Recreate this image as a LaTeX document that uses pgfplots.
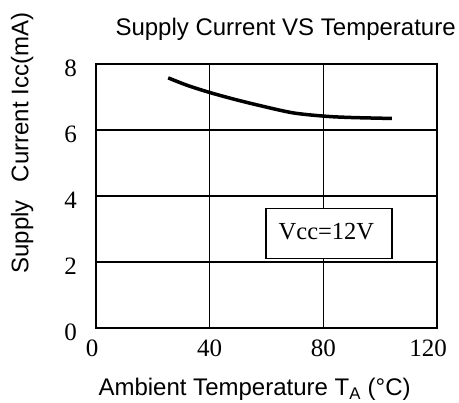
\documentclass[border=0pt]{standalone}
\usepackage{fontspec}
\setmainfont{Liberation Sans}
\newfontfamily\tnr{Liberation Serif}
\usepackage{pgfplots}
\pgfplotsset{compat=1.18}
\begin{document}
\begin{tikzpicture}
\path[use as bounding box] (0,0) rectangle (459bp,403bp);
\begin{axis}[
  at={(96bp,75bp)}, anchor=south west,
  scale only axis, width=341bp, height=264bp,
  xmin=0, xmax=120, ymin=0, ymax=8,
  xtick={0,40,80,120}, ytick={0,2,4,6,8},
  xticklabels={{\hspace*{-8bp}0},{40},{80},{\hspace*{-18bp}120}},
  major tick length=0pt,
  grid=major,
  grid style={black, line width=1.5bp},
  axis line style={black, line width=1.6bp},
  /pgf/number format/assume math mode=true,
  tick label style={font=\tnr\fontsize{25bp}{28bp}\selectfont, inner sep=0pt},
  xticklabel style={anchor=north, yshift=-12bp},
  yticklabel style={anchor=east, xshift=-19bp, yshift=-4bp},
  title={Supply Current VS Temperature},
  title style={at={(axis description cs:0.556,1.087)}, anchor=base, inner sep=0pt, font=\fontsize{24bp}{28bp}\selectfont},
  xlabel={Ambient Temperature T\textsubscript{A} (°C)},
  xlabel style={at={(axis description cs:0.465,-0.257)}, anchor=base, inner sep=0pt, font=\fontsize{24bp}{28bp}\selectfont},
  ylabel={Supply\hspace{0.75em}Current Icc(mA)},
  ylabel style={at={(axis description cs:-0.1985,0.70)}, anchor=base, rotate=0, inner sep=0pt, font=\fontsize{24bp}{28bp}\selectfont},
  clip=false,
]
\addplot[black, line width=3.5bp, smooth, tension=0.5] coordinates {
  (25.4,7.58) (31.9,7.36) (39.5,7.15) (48.3,6.94) (57.7,6.74)
  (69.3,6.52) (80.3,6.42) (89.4,6.38) (104.1,6.35)
};
\draw[black, line width=1.4bp, fill=white] (axis cs:59.8,2.10) rectangle (axis cs:104.2,3.62);
\node[font=\tnr\fontsize{24.5bp}{28bp}\selectfont] at (axis cs:81.1,2.93) {Vcc=12V};
\end{axis}
\end{tikzpicture}
\end{document}
